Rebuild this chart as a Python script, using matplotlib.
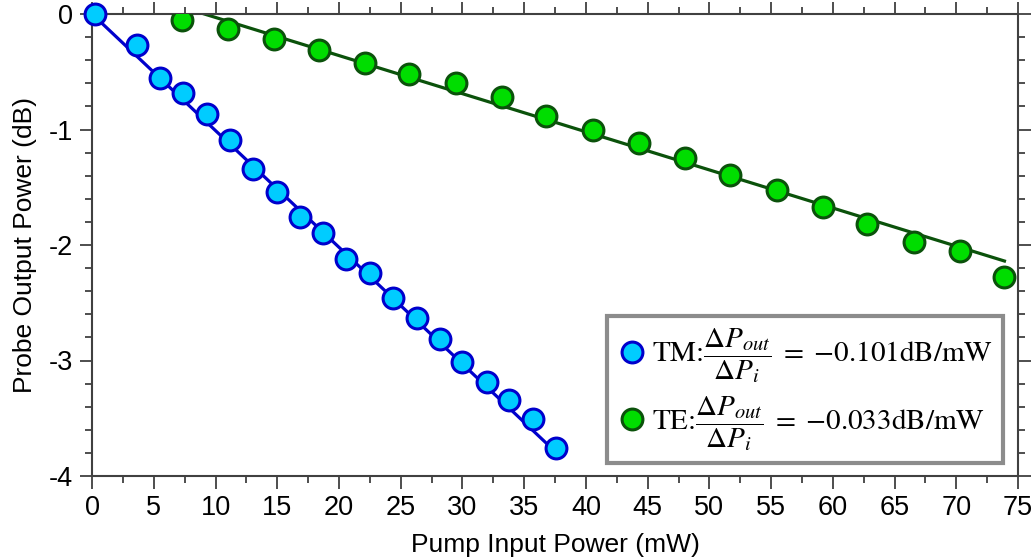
import numpy as np
import matplotlib
matplotlib.use('Agg')
import matplotlib.pyplot as plt
from matplotlib.ticker import MultipleLocator

plt.rcParams['font.family'] = ['Liberation Sans', 'DejaVu Sans']
plt.rcParams['mathtext.fontset'] = 'stix'

# measured points
tm_power = [0.25, 3.6, 5.5, 7.4, 9.3, 11.2, 13.0, 15.0, 16.8, 18.7, 20.6, 22.5,
            24.4, 26.3, 28.2, 30.0, 32.0, 33.8, 35.7, 37.6]
tm_output = [0.0, -0.27, -0.55, -0.68, -0.87, -1.09, -1.34, -1.54, -1.76, -1.90,
             -2.12, -2.24, -2.46, -2.63, -2.81, -3.01, -3.19, -3.34, -3.51, -3.76]
te_power = [7.3, 11.0, 14.7, 18.4, 22.1, 25.7, 29.5, 33.2, 36.8, 40.6, 44.3,
            48.0, 51.7, 55.5, 59.2, 62.8, 66.6, 70.3, 73.9]
te_output = [-0.05, -0.13, -0.22, -0.31, -0.42, -0.52, -0.60, -0.72, -0.88, -1.00,
             -1.12, -1.25, -1.39, -1.52, -1.67, -1.82, -1.97, -2.05, -2.28]

# linear fits (slope dB/mW, intercept dB)
tm_slope, tm_intercept = -0.101, 0.0
te_slope, te_intercept = -0.033, 0.30

x_ticks = list(range(0, 80, 5))
y_ticks = [0, -1, -2, -3, -4]

tm_face, tm_edge = '#00CCFF', '#0000CC'
te_face, te_edge = '#00DD00', '#0B520B'

fig = plt.figure(figsize=(10.35, 5.6), dpi=100)
ax = fig.add_axes([0.089, 0.15, 0.8946, 0.825])

tm_x = np.array([tm_power[0], tm_power[-1]])
te_x = np.array([te_power[0], te_power[-1]])
ax.plot(tm_x, tm_slope * tm_x + tm_intercept, color=tm_edge, lw=2.3, zorder=2)
ax.plot(te_x, te_slope * te_x + te_intercept, color=te_edge, lw=2.3, zorder=2)

ax.plot(tm_power, tm_output, 'o', ms=15, mfc=tm_face, mec=tm_edge, mew=2.2, zorder=3,
        clip_on=False,
        label=r'TM:$\dfrac{\Delta P_{out}}{\Delta P_i}\;=\;{-}0.101\mathrm{dB/mW}$')
ax.plot(te_power, te_output, 'o', ms=15, mfc=te_face, mec=te_edge, mew=2.2, zorder=3,
        label=r'TE:$\dfrac{\Delta P_{out}}{\Delta P_i}\;=\;{-}0.033\mathrm{dB/mW}$')

ax.set_xlim(0, 75)
ax.set_ylim(-4, 0)
ax.set_xticks(x_ticks)
ax.set_yticks(y_ticks)
ax.set_yticklabels([str(v) for v in y_ticks])
ax.xaxis.set_minor_locator(MultipleLocator(2.5))
ax.yaxis.set_minor_locator(MultipleLocator(0.2))
ax.tick_params(which='both', direction='out', top=True, right=True, colors='#404040',
               labelcolor='black', labelsize=19.5, width=1.3)
ax.tick_params(which='major', length=9, pad=5)
ax.tick_params(which='minor', length=5)
for s in ax.spines.values():
    s.set_color('#404040')
    s.set_linewidth(1.5)

ax.set_xlabel('Pump Input Power (mW)', fontsize=19, labelpad=8)
ax.set_ylabel('Probe Output Power (dB)', fontsize=19, labelpad=8)

leg = ax.legend(loc='lower right', bbox_to_anchor=(0.984, 0.028), borderaxespad=0,
                fancybox=False, framealpha=1, edgecolor='#8C8C8C', handletextpad=0.2,
                borderpad=0.35, labelspacing=0.3, handlelength=1.0,
                prop={'family': 'STIXGeneral', 'size': 21})
leg.get_frame().set_linewidth(3)

fig.savefig('out.png', dpi=100)
